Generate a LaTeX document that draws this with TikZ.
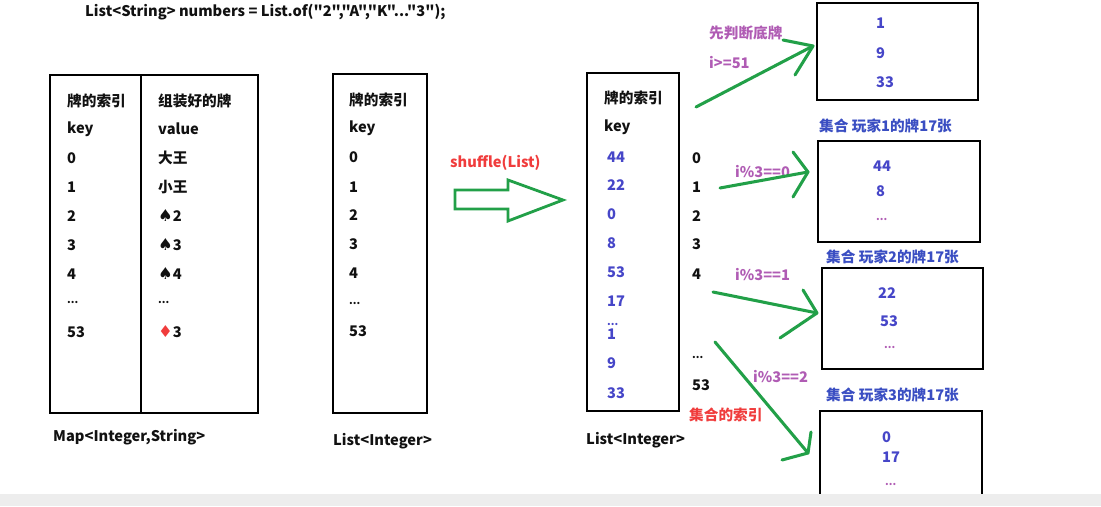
\documentclass[tikz,border=0pt]{standalone}
\usepackage{fontspec}
\setmainfont{Noto Sans CJK SC}[Ligatures=TeXOff]
\newfontfamily\suit{DejaVu Sans}
\usepackage{tikz}
\usetikzlibrary{positioning,fit}
\definecolor{ink}{HTML}{111111}
\definecolor{numblue}{HTML}{4646C8}
\definecolor{setblue}{HTML}{3A4EC2}
\definecolor{condpurple}{HTML}{B05CB4}
\definecolor{hotred}{HTML}{F03C3C}
\definecolor{pengreen}{HTML}{22A048}
\definecolor{bargray}{HTML}{EDEDED}
\tikzset{
  box/.style={rectangle,draw=black,line width=2.4pt,inner sep=0pt},
  cell/.style={anchor=west,inner sep=0pt,text=ink},
  num/.style={cell,text=numblue},
  cond/.style={anchor=west,inner sep=0pt,text=condpurple},
  setlabel/.style={anchor=west,inner sep=0pt,text=setblue},
  hand/.style={draw=pengreen,line width=2.6pt,line cap=round,line join=round},
  hollow/.style={draw=pengreen,line width=2.4pt,line join=miter}
}
\newcommand{\dd}{\raisebox{0.1ex}{\fontsize{9}{9}\selectfont ...}}
\newcommand{\pip}[1]{{\suit\fontsize{14}{15}\selectfont #1}}

\begin{document}
\begin{tikzpicture}[x=0.03cm,y=-0.03cm,font=\fontsize{12.5}{15}\selectfont\bfseries]
\useasboundingbox (0,0) rectangle (1101,506);
\node[cell] (title) at (85,12) {List<String> numbers = List.of("2","A","K"..."3");};
\node[box,fit={(50,75)(258,413)}] (map) {};
\draw[line width=2.4pt] (141,75) -- (141,413);
\node[box,fit={(333,74)(427,413)}] (list) {};
\node[box,fit={(587,73)(679,411)}] (shuf) {};
\node[box,fit={(817,3)(978,100)}] (p0) {};
\node[box,fit={(818,141)(980,242)}] (p1) {};
\node[box,fit={(822,268)(983,369)}] (p2) {};
\node[box,fit={(820,411)(982,500)}] (p3) {};
\foreach \t/\y [count=\i] in {牌的索引/101,key/129,0/158,1/187,2/216,3/245,4/274,\dd/303,53/332}
  \node[cell] (k\i) at (67,\y) {\t};
\foreach \t/\y [count=\i] in {组装好的牌/101,value/129,大王/158,小王/187,{\pip{♠}2}/216,{\pip{♠}3}/245,{\pip{♠}4}/274,\dd/303,{{\color{hotred}\pip{♦}}3}/332}
  \node[cell] (v\i) at (158,\y) {\t};
\foreach \t/\y [count=\i] in {牌的索引/100,key/128,0/157,1/187,2/215,3/244,4/273,\dd/304,53/331}
  \node[cell] (l\i) at (349,\y) {\t};
\node[cell] (s0) at (604,98) {牌的索引};
\node[cell] (s1) at (604,127) {key};
\foreach \t/\y [count=\i from 2] in {44/157,22/185,0/214,8/243,53/272,17/301,1/334,9/363,33/393}
  \node[num] (s\i) at (607,\y) {\t};
\node[num] (sdots) at (607,325) {\dd};
\foreach \t/\y [count=\i] in {0/158,1/187,2/216,3/244,4/274,\dd/358,53/385}
  \node[cell] (n\i) at (692,\y) {\t};
\node[cell] (mapname) at (53,437) {Map<Integer,String>};
\node[cell] (listname) at (333,441) {List<Integer>};
\node[cell] (shufname) at (586,440) {List<Integer>};
\node[cell,text=hotred] (idxname) at (689,415) {集合的索引};
\node[cell,text=hotred] (op) at (450,163) {shuffle(List)};
\draw[hollow] (455,190) -- (508,190) -- (508,180) -- (563,200) -- (508,221) -- (508,209) -- (455,209) -- cycle;
\node[num] (a1) at (876,23) {1};
\node[num] (a2) at (876,53) {9};
\node[num] (a3) at (876,82) {33};
\node[num] (b1) at (873,166) {44};
\node[num] (b2) at (876,191) {8};
\node[cond] (b3) at (876,220) {\dd};
\node[num] (c1) at (878,293) {22};
\node[num] (c2) at (880,321) {53};
\node[cond] (c3) at (884,348) {\dd};
\node[num] (d1) at (882,437) {0};
\node[num] (d2) at (882,457) {17};
\node[cond] (d3) at (885,485) {\dd};
\node[setlabel] (pn0) at (819,126) {集合 玩家1的牌17张};
\node[setlabel] (pn1) at (826,257) {集合 玩家2的牌17张};
\node[setlabel] (pn2) at (826,395) {集合 玩家3的牌17张};
\node[cond] (r0) at (709,33) {先判断底牌};
\node[cond] (r0b) at (709,63) {i>=51};
\node[cond] (r1) at (735,172) {i\%3==0};
\node[cond] (r2) at (735,275) {i\%3==1};
\node[cond] (r3) at (753,377) {i\%3==2};
\coordinate (f0) at (696,107); \coordinate (t0) at (813,46);
\coordinate (f1) at (720,188); \coordinate (t1) at (808,172);
\coordinate (f2) at (713,292); \coordinate (t2) at (817,313);
\coordinate (f3) at (715,342); \coordinate (t3) at (808,453);
\draw[hand] (f0) -- (t0); \draw[hand] (783,40) -- (t0) -- (795,75);
\draw[hand] (f1) -- (t1); \draw[hand] (793,152) -- (t1) -- (793,197);
\draw[hand] (f2) -- (t2); \draw[hand] (803,290) -- (t2) -- (780,338);
\draw[hand] (f3) -- (t3); \draw[hand] (811,432) -- (t3) -- (782,460);
\fill[bargray] (0,494) rectangle (1101,506);
\end{tikzpicture}
\end{document}
